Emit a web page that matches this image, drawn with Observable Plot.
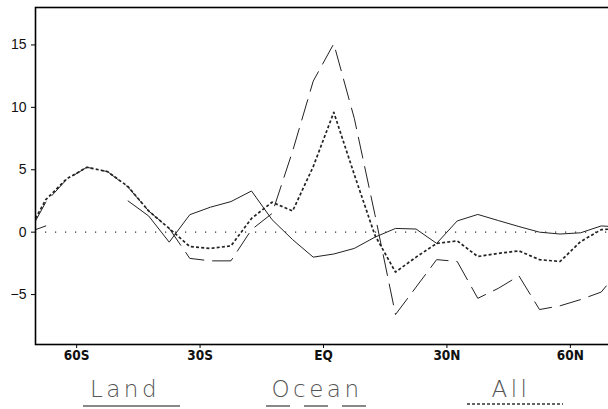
<!DOCTYPE html>
<html><head><meta charset="utf-8">
<script src="https://cdn.jsdelivr.net/npm/d3@7"></script>
<script src="https://cdn.jsdelivr.net/npm/@observablehq/plot@0.6"></script>
<style>
html,body{margin:0;padding:0;background:#fff;overflow:hidden;width:608px;height:409px;}
#chart{width:612px;height:362px;}
#chart svg{display:block;}
#legend{width:608px;height:47px;}
#legend svg{display:block;}
</style></head><body><div id="chart"></div><div id="legend"></div>
<script>
const lat = [-70,-67.5,-62.5,-57.5,-52.5,-47.5,-42.5,-37.5,-32.5,-27.5,-22.5,-17.5,-12.5,-7.5,-2.5,2.5,7.5,12.5,17.5,22.5,27.5,32.5,37.5,42.5,47.5,52.5,57.5,62.5,67.5,70];
const land = [0.2,0.5,null,null,null,2.5,1.3,-0.8,1.4,2.0,2.45,3.3,1.0,-0.6,-2.0,-1.75,-1.3,-0.4,0.3,0.25,-0.9,0.9,1.42,0.93,0.45,0.0,-0.15,-0.05,0.5,0.45];
const ocean = [0.9,2.4,4.2,5.2,4.85,3.6,1.7,0.3,-2.1,-2.3,-2.3,0.2,1.5,6.5,12.1,15.1,9.1,1.4,-6.6,-4.4,-2.2,-2.35,-5.3,-4.5,-3.5,-6.2,-5.9,-5.4,-4.8,-3.8];
const all = [1.1,2.6,4.25,5.2,4.85,3.65,1.7,0.3,-1.15,-1.3,-1.1,1.1,2.4,1.7,5.25,9.6,4.6,-0.25,-3.2,-2.0,-0.9,-0.7,-1.95,-1.7,-1.5,-2.2,-2.35,-0.75,0.2,0.25];
const xTicks = [-60,-30,0,30,60];
const xTickLabels = ["60S","30S","EQ","30N","60N"];
const yTicks = [-5,0,5,10,15];
const seriesNames = ["Land","Ocean","All"];
const seriesDash = ["none","24,14","3,2"];
const seriesWidth = [1.8,1.8,1.6];
const seriesColor = ["#888","#888","#333"];

const rows = lat.map((l,i)=>({lat:l, land:land[i], ocean:ocean[i], all:all[i]}));

const plot = Plot.plot({
  width: 612, height: 362,
  marginLeft: 35, marginRight: 1, marginTop: 7, marginBottom: 18,
  x: {domain:[-70,70]},
  y: {domain:[-9,18]},
  style: {background:"#fff", overflow:"visible"},
  marks: [
    Plot.ruleY([0], {stroke:"#333", strokeDasharray:"1.2,8.8", strokeWidth:1.2}),
    Plot.line(rows, {x:"lat", y:"land", stroke:"#222", strokeWidth:1}),
    Plot.line(rows, {x:"lat", y:"ocean", stroke:"#222", strokeWidth:1, strokeDasharray:"22,8", strokeLinecap:"butt"}),
    Plot.line(rows, {x:"lat", y:"all", stroke:"#222", strokeWidth:1.7, strokeDasharray:"3,2.2", strokeLinecap:"butt"}),
    Plot.frame({stroke:"#000", strokeWidth:1.6}),
    Plot.axisX({ticks:xTicks, tickFormat: d=>xTickLabels[xTicks.indexOf(d)], tickSize:4, tickPadding:2,
      fontSize:13.5, fontWeight:"bold", fontFamily:"'Liberation Sans Narrow','DejaVu Sans Condensed',sans-serif", label:null, stroke:"#000", fill:"#111"}),
    Plot.axisY({ticks:yTicks, tickSize:4, tickPadding:5, fontSize:14, fontFamily:"'Liberation Sans',Arial,sans-serif", label:null, stroke:"#000", fill:"#111"})
  ]
});
document.getElementById("chart").appendChild(plot);

// legend below the chart
const legendX = [125, 317, 511];
const legendLine = [[83,180],[266,367],[467,563]];
const lsvg = d3.select("#legend").append("svg").attr("width",608).attr("height",47);
seriesNames.forEach((name,i)=>{
  lsvg.append("text").attr("x",legendX[i]).attr("y",35).attr("text-anchor","middle")
    .style("font-family","'DejaVu Sans',sans-serif").style("font-weight","200")
    .style("font-size","23px").style("letter-spacing","3.5px").style("fill","#555").text(name);
  lsvg.append("line").attr("x1",legendLine[i][0]).attr("x2",legendLine[i][1])
    .attr("y1",i===2?42:44).attr("y2",i===2?42:44)
    .attr("stroke",seriesColor[i]).attr("stroke-width",seriesWidth[i])
    .attr("stroke-dasharray",seriesDash[i]);
});
</script></body></html>
